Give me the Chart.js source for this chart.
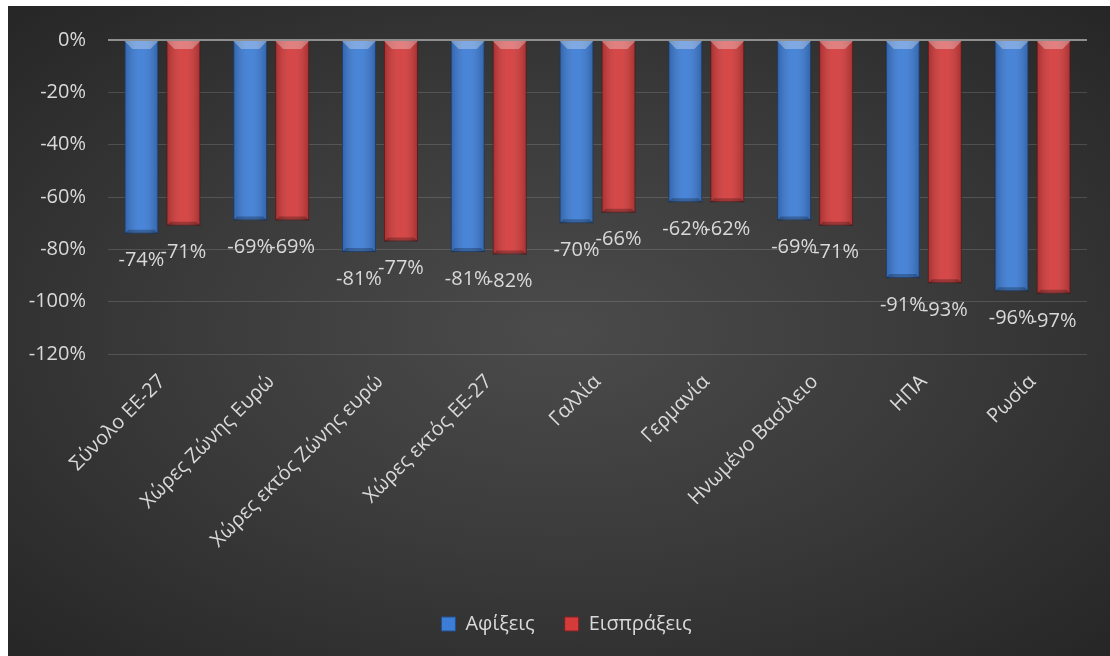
<!DOCTYPE html>
<html lang="el">
<head>
    <meta charset="UTF-8">
    <title>Αφίξεις και Εισπράξεις</title>
    <style>
        html, body {
            margin: 0;
            padding: 0;
            background-color: #ffffff;
        }
        .chart-box {
            position: absolute;
            left: 8px;
            top: 6px;
            width: 1102px;
            height: 650px;
            overflow: hidden;
            background: radial-gradient(ellipse farthest-corner at 50% 50%, #4b4b4b 0%, #3a3a3a 50%, #262626 100%);
        }
    </style>
    <script src="https://cdn.jsdelivr.net/npm/chart.js"></script>
</head>
<body>
    <div class="chart-box">
        <canvas id="grafico" width="1140" height="650"></canvas>
    </div>
    <script>
        // datos
        const categorias = ['Σύνολο ΕΕ-27', 'Χώρες Ζώνης Ευρώ', 'Χώρες εκτός Ζώνης ευρώ', 'Χώρες εκτός ΕΕ-27',
            'Γαλλία', 'Γερμανία', 'Ηνωμένο Βασίλειο', 'ΗΠΑ', 'Ρωσία'];
        const afixeis = [-74, -69, -81, -81, -70, -62, -69, -91, -96];
        const eispraxeis = [-71, -69, -77, -82, -66, -62, -71, -93, -97];
        const ticksY = [0, -20, -40, -60, -80, -100, -120];

        const fuente = "'Open Sans', 'Noto Sans', sans-serif";
        const gris = '#d9d9d9';

        // sombreado de las barras (efecto cilindro / bisel)
        const sombreado = {
            id: 'sombreado',
            afterDatasetsDraw(chart) {
                const ctx = chart.ctx;
                chart.data.datasets.forEach((ds, i) => {
                    chart.getDatasetMeta(i).data.forEach(bar => {
                        const p = bar.getProps(['x', 'y', 'base', 'width']);
                        const l = p.x - p.width / 2, r = p.x + p.width / 2;
                        const t = p.base, b = p.y;
                        const g = ctx.createLinearGradient(l, 0, r, 0);
                        g.addColorStop(0, 'rgba(0,0,0,0.22)');
                        g.addColorStop(0.5, 'rgba(255,255,255,0.06)');
                        g.addColorStop(1, 'rgba(0,0,0,0.22)');
                        ctx.save();
                        ctx.fillStyle = g;
                        ctx.fillRect(l, t, r - l, b - t);
                        // bisel de arriba
                        ctx.fillStyle = 'rgba(255,255,255,0.3)';
                        ctx.beginPath();
                        ctx.moveTo(l, t); ctx.lineTo(r, t);
                        ctx.lineTo(r - 8, t + 8); ctx.lineTo(l + 8, t + 8);
                        ctx.closePath(); ctx.fill();
                        // bisel de abajo
                        ctx.fillStyle = 'rgba(0,0,0,0.25)';
                        ctx.beginPath();
                        ctx.moveTo(l, b); ctx.lineTo(r, b);
                        ctx.lineTo(r - 4, b - 4); ctx.lineTo(l + 4, b - 4);
                        ctx.closePath(); ctx.fill();
                        ctx.restore();
                    });
                });
            }
        };

        // etiquetas de valor debajo de cada barra
        const etiquetas = {
            id: 'etiquetas',
            afterDatasetsDraw(chart) {
                const ctx = chart.ctx;
                ctx.save();
                ctx.font = '20px ' + fuente;
                ctx.fillStyle = gris;
                ctx.textAlign = 'center';
                ctx.textBaseline = 'middle';
                chart.data.datasets.forEach((ds, i) => {
                    chart.getDatasetMeta(i).data.forEach((bar, j) => {
                        ctx.fillText(ds.data[j] + '%', bar.x, bar.y + 27);
                    });
                });
                ctx.restore();
            }
        };

        new Chart(document.getElementById('grafico'), {
            type: 'bar',
            data: {
                labels: categorias,
                datasets: [{
                    label: 'Αφίξεις',
                    data: afixeis,
                    backgroundColor: '#3d7dd6',
                    borderColor: '#24508f',
                    borderWidth: 1,
                    categoryPercentage: 0.772,
                    barPercentage: 0.81
                }, {
                    label: 'Εισπράξεις',
                    data: eispraxeis,
                    backgroundColor: '#d43c3c',
                    borderColor: '#7e2222',
                    borderWidth: 1,
                    categoryPercentage: 0.772,
                    barPercentage: 0.81
                }]
            },
            options: {
                responsive: false,
                animation: false,
                layout: { padding: { top: 19, right: 23, bottom: 12, left: 0 } },
                plugins: {
                    tooltip: { enabled: false },
                    legend: {
                        position: 'bottom',
                        labels: {
                            color: gris,
                            font: { family: fuente, size: 20 },
                            boxWidth: 14,
                            boxHeight: 14,
                            padding: 30
                        }
                    }
                },
                scales: {
                    x: {
                        grid: { display: false },
                        border: { display: false },
                        ticks: {
                            color: gris,
                            font: { family: fuente, size: 20 },
                            maxRotation: 45,
                            minRotation: 45,
                            padding: 8
                        },
                        afterFit(scale) { scale.height = 230; }
                    },
                    y: {
                        min: -120,
                        max: 0,
                        afterBuildTicks(scale) { scale.ticks = ticksY.map(v => ({ value: v })); },
                        grid: {
                            drawTicks: false,
                            color: c => c.tick.value === 0 ? '#8f8f8f' : 'rgba(255,255,255,0.14)',
                            lineWidth: c => c.tick.value === 0 ? 2 : 1
                        },
                        border: { display: false },
                        ticks: {
                            color: gris,
                            font: { family: fuente, size: 20 },
                            padding: 22,
                            callback: v => v + '%'
                        },
                        afterFit(scale) { scale.width = 100; }
                    },
                    // eje vacio a la derecha para centrar la leyenda como en el original
                    hueco: {
                        position: 'right',
                        grid: { display: false },
                        border: { display: false },
                        ticks: { display: false },
                        afterFit(scale) { scale.width = 38; }
                    }
                }
            },
            plugins: [sombreado, etiquetas]
        });
    </script>
</body>
</html>
